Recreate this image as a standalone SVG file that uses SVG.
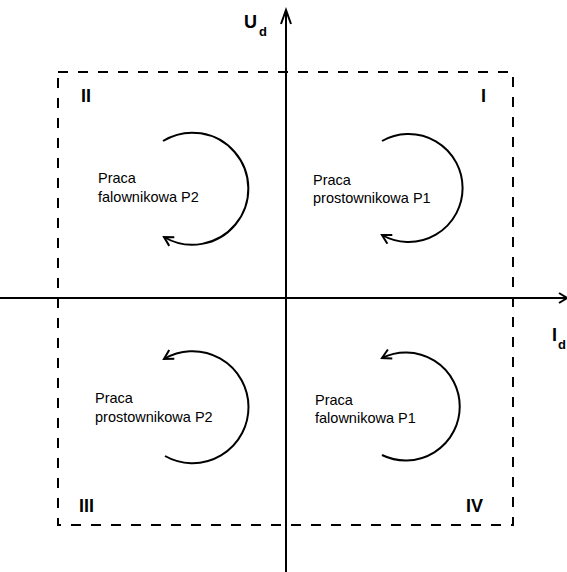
<svg xmlns="http://www.w3.org/2000/svg" width="567" height="572" viewBox="0 0 567 572">
<style>
.ax{stroke:#000;stroke-width:2;fill:none}
.box{stroke:#000;stroke-width:2;fill:none;stroke-dasharray:10 10}
.arc{stroke:#000;stroke-width:2;fill:none}
.t{font-family:"Liberation Sans",Arial,sans-serif;font-size:14.5px;fill:#000}
.r{font-family:"Liberation Sans",Arial,sans-serif;font-size:18px;font-weight:bold;fill:#000}
.lab{font-family:"Liberation Sans",Arial,sans-serif;font-size:18px;font-weight:bold;fill:#000}
.sub{font-family:"Liberation Sans",Arial,sans-serif;font-size:13px;font-weight:bold;fill:#000}
</style>
<defs>
<marker id="ah" markerWidth="12" markerHeight="12" refX="10" refY="6" orient="auto" markerUnits="userSpaceOnUse">
<path d="M1,1 L10,6 L1,11" stroke="#000" stroke-width="2" fill="none"/>
</marker>
</defs>
<rect width="567" height="572" fill="#fff"/>
<g id="connectors">
<rect class="box" x="58" y="72" width="455" height="453"/>
<line class="ax" x1="286" y1="572" x2="286" y2="10"/>
<path class="ax" d="M281,24 L286,10 L291,24" fill="#000"/>
<line class="ax" x1="0" y1="298" x2="567" y2="298"/>
<path class="ax" d="M559,293 L567,298 L559,303"/>
</g>
<g id="axis-labels">
<text class="lab" x="244" y="28">U</text><text class="sub" x="259" y="36">d</text>
<text class="lab" x="552" y="341">I</text><text class="sub" x="558" y="349">d</text>
</g>
<g id="q1">
<path class="arc" d="M382,141 A54,54 0 1 1 382,235" marker-end="url(#ah)"/>
<text class="t" x="313" y="185">Praca</text>
<text class="t" x="313" y="203">prostownikowa P1</text>
<text class="r" x="481" y="102">I</text>
</g>
<g id="q2">
<path class="arc" d="M163,141 A56,56 0 1 1 164,237" marker-end="url(#ah)"/>
<text class="t" x="98" y="183">Praca</text>
<text class="t" x="98" y="202">falownikowa P2</text>
<text class="r" x="81" y="102">II</text>
</g>
<g id="q3">
<path class="arc" d="M165,456 A56,56 0 1 0 164,359" marker-end="url(#ah)"/>
<text class="t" x="95" y="403">Praca</text>
<text class="t" x="95" y="422">prostownikowa P2</text>
<text class="r" x="79" y="512">III</text>
</g>
<g id="q4">
<path class="arc" d="M382,455 A54,54 0 1 0 382,358" marker-end="url(#ah)"/>
<text class="t" x="315" y="405">Praca</text>
<text class="t" x="315" y="423">falownikowa P1</text>
<text class="r" x="466" y="512">IV</text>
</g>
</svg>
